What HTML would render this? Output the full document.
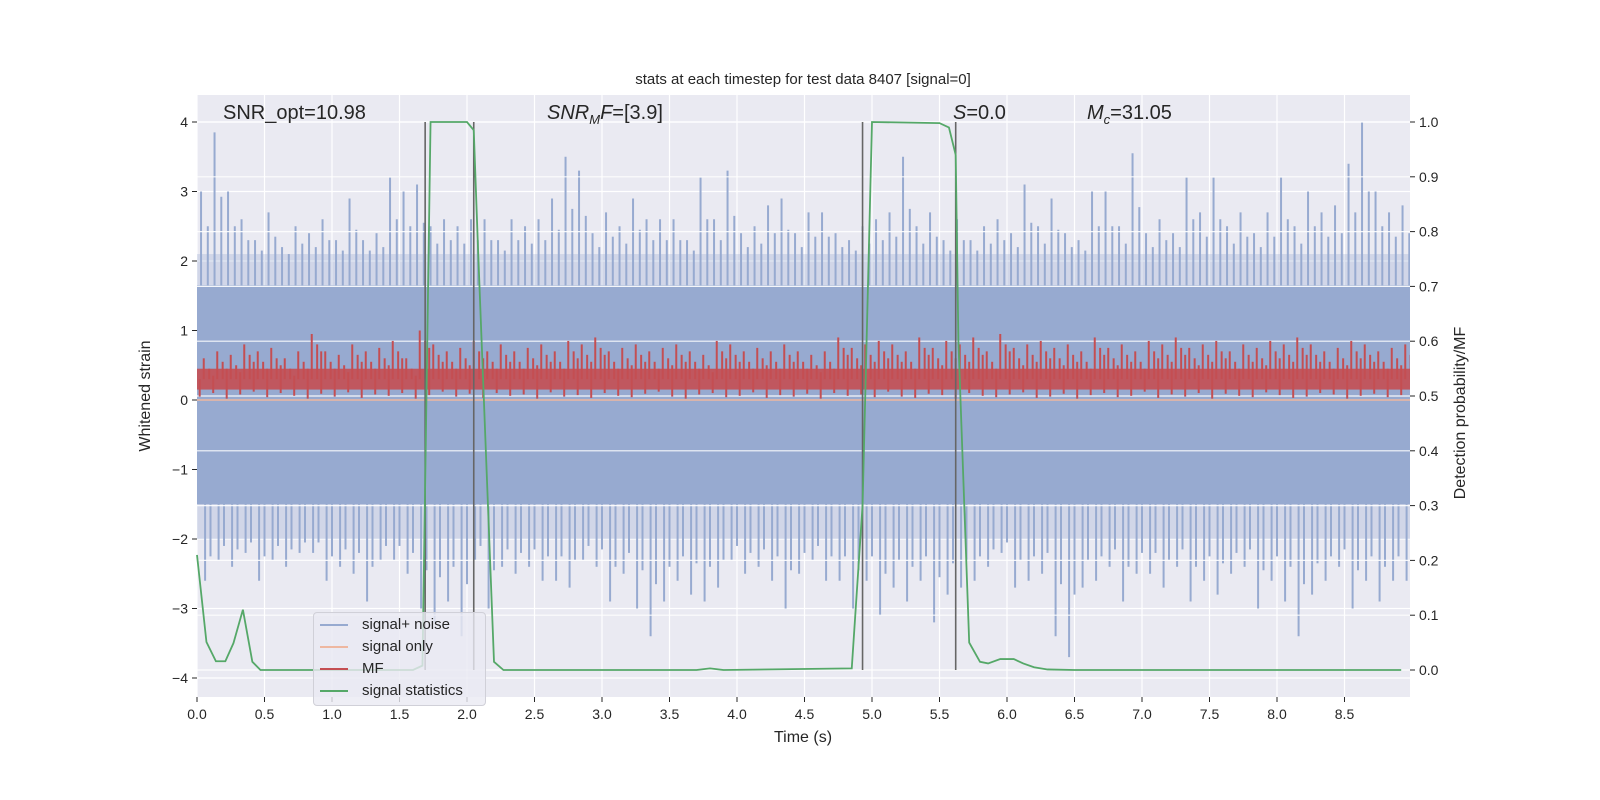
<!DOCTYPE html>
<html><head><meta charset="utf-8">
<style>
body{margin:0;background:#fff;}
svg{display:block;font-family:"Liberation Sans","DejaVu Sans",sans-serif;}
</style></head>
<body>
<svg id="chart" width="1600" height="800" xmlns="http://www.w3.org/2000/svg"><defs><clipPath id="pc"><rect x="197" y="95" width="1213" height="602"/></clipPath></defs></svg>
<script>
const xTicks=[0,0.5,1,1.5,2,2.5,3,3.5,4,4.5,5,5.5,6,6.5,7,7.5,8,8.5];
const yTicks=[-4,-3,-2,-1,0,1,2,3,4];
const pTicks=[0,0.1,0.2,0.3,0.4,0.5,0.6,0.7,0.8,0.9,1.0];
const noiseHi=[3.0,3.85,3.0,2.6,2.3,2.7,2.2,2.5,2.4,2.6,2.3,2.9,2.3,2.4,3.2,3.0,3.1,2.5,2.6,2.5,2.6,2.6,2.3,2.6,2.5,2.6,2.9,3.5,3.3,2.4,2.7,2.5,2.9,2.6,2.6,2.6,2.3,3.2,2.6,3.3,2.4,2.5,2.8,2.9,2.4,2.7,2.7,2.4,2.3,2.5,2.6,2.7,3.5,2.5,2.7,2.3,2.6,2.3,2.5,2.6,2.4,3.1,2.5,2.9,2.4,2.3,3.0,3.0,2.5,3.55,2.4,2.6,2.4,3.2,2.7,3.2,2.5,2.7,2.4,2.7,3.2,2.5,3.0,2.7,2.8,3.4,4.0,3.0,2.7,2.8];
const noiseLo=[-2.6,-2.3,-2.4,-2.2,-2.6,-2.3,-2.4,-2.2,-2.2,-2.6,-2.4,-2.5,-2.9,-2.3,-2.3,-2.5,-3.0,-3.2,-2.9,-3.4,-2.3,-3.0,-2.4,-2.5,-2.4,-2.6,-2.6,-2.7,-2.3,-2.4,-2.9,-2.5,-3.0,-3.4,-2.9,-2.6,-2.8,-2.9,-2.7,-2.3,-2.5,-2.4,-2.6,-3.0,-2.5,-2.3,-2.6,-2.6,-3.0,-2.6,-3.1,-2.7,-2.9,-2.6,-3.2,-2.8,-2.7,-2.6,-2.4,-2.2,-2.7,-2.6,-2.5,-3.4,-3.7,-2.7,-2.6,-2.4,-2.9,-2.5,-2.5,-2.7,-2.4,-2.9,-2.6,-2.8,-2.5,-2.4,-3.0,-2.6,-2.9,-3.4,-2.8,-2.6,-2.4,-3.0,-2.6,-2.9,-2.6,-2.6];
const mfHi=[0.6,0.7,0.65,0.8,0.7,0.75,0.6,0.7,0.95,0.7,0.65,0.8,0.7,0.75,0.85,0.6,1.0,0.8,0.7,0.75,0.85,0.7,0.8,0.7,0.75,0.8,0.7,0.85,0.8,0.9,0.7,0.75,0.8,0.7,0.75,0.8,0.7,0.65,0.85,0.8,0.7,0.75,0.7,0.8,0.7,0.65,0.7,0.9,0.75,0.8,0.85,0.8,0.7,0.9,0.75,0.85,0.8,0.9,0.7,0.95,0.75,0.8,0.85,0.75,0.8,0.7,0.9,0.75,0.8,0.7,0.85,0.8,0.9,0.75,0.8,0.85,0.7,0.8,0.75,0.85,0.8,0.9,0.8,0.7,0.75,0.85,0.8,0.7,0.75,0.8];
const mfLo=[0.05,0.1,0.02,0.08,0.12,0.04,0.1,0.06,0.02,0.09,0.05,0.11,0.03,0.08,0.06,0.1,0.02,0.07,0.12,0.05,0.09,0.03,0.1,0.06,0.08,0.02,0.11,0.05,0.07,0.03,0.1,0.06,0.04,0.09,0.12,0.05,0.02,0.08,0.1,0.04,0.06,0.11,0.03,0.07,0.05,0.09,0.02,0.1,0.06,0.08,0.04,0.12,0.05,0.03,0.09,0.07,0.02,0.1,0.06,0.04,0.08,0.11,0.03,0.05,0.09,0.02,0.07,0.1,0.04,0.06,0.12,0.03,0.08,0.05,0.1,0.02,0.09,0.06,0.04,0.11,0.07,0.03,0.05,0.1,0.08,0.02,0.06,0.09,0.04,0.07];
const statT=[0,0.07,0.14,0.21,0.27,0.34,0.41,0.47,1.6,1.67,1.73,1.78,2.0,2.05,2.08,2.2,2.27,3.7,3.8,3.9,4.85,4.93,5.0,5.5,5.57,5.62,5.64,5.72,5.8,5.86,5.95,6.05,6.12,6.2,6.3,6.5,8.92];
const statV=[0.21,0.051,0.016,0.016,0.049,0.11,0.015,0.0,0.0,0.008,1.0,1.0,1.0,0.985,0.78,0.015,0.0,0.0,0.003,0.0,0.003,0.3,1.0,0.998,0.99,0.94,0.6,0.05,0.015,0.012,0.02,0.02,0.012,0.005,0.001,0.0,0.0];
const vLines=[1.69,2.05,4.93,5.62];

const L=197,R=1410,T=95,B=697;
const X=t=>L+t*135;
const Y=v=>400-v*69.5;
const P=p=>670-p*548;
const svg=document.getElementById('chart');
const NS='http://www.w3.org/2000/svg';
function mk(tag,attrs,parent){const e=document.createElementNS(NS,tag);for(const k in attrs)e.setAttribute(k,attrs[k]);(parent||svg).appendChild(e);return e;}

let bg=mk('rect',{x:L,y:T,width:R-L,height:B-T,fill:'#eaeaf2'});


const grid=mk('g',{stroke:'#fff','stroke-width':1.2});


xTicks.forEach(t=>mk('line',{x1:X(t),x2:X(t),y1:T,y2:B},grid));
yTicks.forEach(v=>mk('line',{x1:L,x2:R,y1:Y(v),y2:Y(v)},grid));

const ng=mk('g',{'clip-path':'url(#pc)'});


mk('rect',{x:L,y:Y(2.1),width:R-L,height:Y(-2.0)-Y(2.1),fill:'#97aad0',opacity:0.3},ng);
mk('rect',{x:L,y:Y(1.65),width:R-L,height:Y(-1.5)-Y(1.65),fill:'#97aad0'},ng);
noiseHi.forEach((v,i)=>{const t=i*0.1+0.03;mk('line',{x1:X(t),x2:X(t),y1:Y(1.6),y2:Y(v),stroke:'#97aad0','stroke-width':2},ng);mk('line',{x1:X(t+0.05),x2:X(t+0.05),y1:Y(1.6),y2:Y((v+1.6)/2+0.2),stroke:'#97aad0','stroke-width':2},ng);});
noiseLo.forEach((v,i)=>{const t=i*0.1+0.06;mk('line',{x1:X(t),x2:X(t),y1:Y(-1.5),y2:Y(v),stroke:'#97aad0','stroke-width':2},ng);mk('line',{x1:X(t+0.04),x2:X(t+0.04),y1:Y(-1.5),y2:Y((v-1.5)/2-0.2),stroke:'#97aad0','stroke-width':2},ng);});

const grid2=mk('g',{stroke:'#fff','stroke-width':1.2,opacity:0.9});


pTicks.forEach(p=>mk('line',{x1:L,x2:R,y1:P(p),y2:P(p)},grid2));

let so=mk('line',{x1:L,x2:R,y1:Y(0),y2:Y(0),stroke:'#eeb7a0','stroke-width':1.5});



const mg=mk('g',{'clip-path':'url(#pc)'});


mk('rect',{x:L,y:Y(0.45),width:R-L,height:Y(0.15)-Y(0.45),fill:'#c44e52',opacity:0.9},mg);
mfHi.forEach((v,i)=>{const t=i*0.1+0.05;mk('line',{x1:X(t),x2:X(t),y1:Y(0.3),y2:Y(v),stroke:'#c44e52','stroke-width':2},mg);mk('line',{x1:X(t+0.04),x2:X(t+0.04),y1:Y(0.3),y2:Y(v-0.15),stroke:'#c44e52','stroke-width':2},mg);mk('line',{x1:X(t+0.07),x2:X(t+0.07),y1:Y(0.3),y2:Y(v-0.25),stroke:'#c44e52','stroke-width':2},mg);});
mfLo.forEach((v,i)=>{const t=i*0.1+0.02;mk('line',{x1:X(t),x2:X(t),y1:Y(0.3),y2:Y(v),stroke:'#c44e52','stroke-width':2},mg);});

vLines.forEach(t=>{const l=mk('line',{x1:X(t),x2:X(t),y1:P(1),y2:P(0),stroke:'#666','stroke-width':1.6});

});

const sp=mk('polyline',{points:statT.map((t,i)=>X(t)+','+P(statV[i])).join(' '),fill:'none',stroke:'#55a868','stroke-width':1.8});



const ax=mk('g',{fill:'#262626','font-size':14});


xTicks.forEach(t=>{mk('line',{x1:X(t),x2:X(t),y1:B,y2:B+5,stroke:'#262626'},ax);const e=mk('text',{x:X(t),y:B+22,'text-anchor':'middle'},ax);e.textContent=t.toFixed(1);});
yTicks.forEach(v=>{mk('line',{x1:L-5,x2:L,y1:Y(v),y2:Y(v),stroke:'#262626'},ax);const e=mk('text',{x:L-9,y:Y(v)+5,'text-anchor':'end'},ax);e.textContent=v<0?'\u2212'+(-v):v;});
pTicks.forEach(p=>{mk('line',{x1:R,x2:R+5,y1:P(p),y2:P(p),stroke:'#262626'},ax);const e=mk('text',{x:R+9,y:P(p)+5},ax);e.textContent=p.toFixed(1);});
</script>
<div style="position:absolute;left:0;top:0;width:1600px;height:800px;pointer-events:none;font-family:'Liberation Sans','DejaVu Sans',sans-serif;color:#262626;">
<div style="position:absolute;left:0;width:1606px;top:71px;text-align:center;font-size:15px;">stats at each timestep for test data 8407 [signal=0]</div>
<div style="position:absolute;left:0;width:1606px;top:729px;text-align:center;font-size:16px;">Time (s)</div>
<div style="position:absolute;left:146px;top:396px;font-size:16px;transform:translate(-50%,-50%) rotate(-90deg);white-space:nowrap;">Whitened strain</div>
<div style="position:absolute;left:1461px;top:413px;font-size:16px;transform:translate(-50%,-50%) rotate(-90deg);white-space:nowrap;">Detection probability/MF</div>
<div style="position:absolute;left:223px;top:102px;font-size:20px;">SNR_opt=10.98</div>
<div style="position:absolute;left:547px;top:102px;font-size:20px;"><i>SNR<sub style="font-size:13px">M</sub>F</i>=[3.9]</div>
<div style="position:absolute;left:953px;top:102px;font-size:20px;"><i>S</i>=0.0</div>
<div style="position:absolute;left:1087px;top:102px;font-size:20px;"><i>M<sub style="font-size:13px">c</sub></i>=31.05</div>
<div style="position:absolute;left:313px;top:612px;width:171px;height:92px;background:rgba(234,234,242,0.8);border:1px solid #d0d0d8;border-radius:4px;font-size:15px;">
<div style="position:absolute;left:6px;top:3px;"><span style="display:inline-block;width:28px;height:2px;background:#97aad0;vertical-align:middle;margin-right:14px"></span>signal+ noise</div>
<div style="position:absolute;left:6px;top:25px;"><span style="display:inline-block;width:28px;height:2px;background:#eeb7a0;vertical-align:middle;margin-right:14px"></span>signal only</div>
<div style="position:absolute;left:6px;top:47px;"><span style="display:inline-block;width:28px;height:2px;background:#c44e52;vertical-align:middle;margin-right:14px"></span>MF</div>
<div style="position:absolute;left:6px;top:69px;"><span style="display:inline-block;width:28px;height:2px;background:#55a868;vertical-align:middle;margin-right:14px"></span>signal statistics</div>
</div>
</div>
</body></html>
